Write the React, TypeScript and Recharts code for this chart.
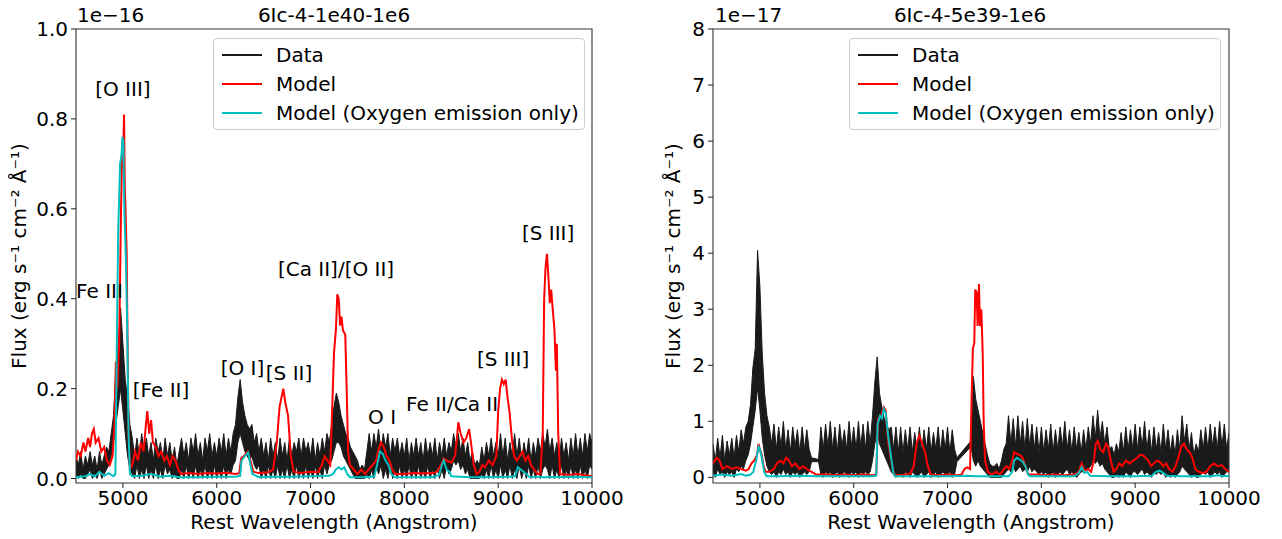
import React from 'react';
import { ComposedChart, Area, Line, XAxis, YAxis, ReferenceDot, ReferenceArea, Legend } from 'recharts';

const FONT = '"DejaVu Sans", sans-serif';

// observed spectra: lower and upper envelope of the noisy data in 25 A bins from 4500 A (null = no data)
const GRID_START = 4500;
const GRID_STEP = 25;

// left panel, units of 1e-16
const DATA_LEFT_HI = [
  0.05, 0.03, 0.06, 0.02, 0.05, 0.03, 0.06, 0.03, 0.05, 0.02, 0.06, 0.03, 0.05, 0.07, 0.06, 0.1, 0.14, 0.24, 0.3, 0.38,
  0.3, 0.22, 0.18, 0.12, 0.09, 0.05, 0.09, 0.05, 0.1, 0.06, 0.09, 0.05, 0.08, 0.04, 0.09, 0.06, 0.08, 0.04, 0.09, 0.05,
  0.08, 0.04, 0.07, 0.03, 0.06, 0.09, 0.05, 0.08, 0.04, 0.09, 0.06, 0.1, 0.05, 0.08, 0.04, 0.09, 0.06, 0.1, 0.05, 0.08,
  0.05, 0.09, 0.06, 0.1, 0.05, 0.09, 0.06, 0.1, 0.12, 0.18, 0.22, 0.17, 0.14, 0.12, 0.11, 0.12, 0.08, 0.1, 0.06, 0.09,
  0.05, 0.08, 0.04, 0.09, 0.05, 0.08, 0.04, 0.09, 0.05, 0.08, 0.04, 0.09, 0.05, 0.08, 0.06, 0.09, 0.05, 0.09, 0.06, 0.08,
  0.05, 0.09, 0.04, 0.08, 0.05, 0.09, 0.06, 0.1, 0.08, 0.12, 0.16, 0.19, 0.17, 0.14, 0.12, 0.1, 0.09, 0.07, 0.06, 0.05,
  0.04, 0.02, 0.03, 0.02, 0.06, 0.1, 0.06, 0.1, 0.07, 0.11, 0.06, 0.1, 0.07, 0.1, 0.05, 0.09, 0.06, 0.09, 0.05, 0.08,
  0.05, 0.09, 0.04, 0.08, 0.05, 0.09, 0.05, 0.08, 0.04, 0.09, 0.05, 0.08, 0.05, 0.09, 0.04, 0.08, 0.05, 0.09, 0.05, 0.08,
  0.06, 0.1, 0.07, 0.1, 0.06, 0.09, 0.05, 0.08, 0.04, 0.06, 0.03, 0.04, 0.03, 0.07, 0.04, 0.08, 0.05, 0.09, 0.05, 0.08,
  0.05, 0.1, 0.05, 0.09, 0.04, 0.08, 0.05, 0.1, 0.05, 0.09, 0.04, 0.08, 0.05, 0.09, 0.04, 0.08, 0.05, 0.09, 0.06, 0.1,
  0.07, 0.11, 0.06, 0.09, 0.05, 0.08, 0.04, 0.09, 0.05, 0.08, 0.04, 0.09, 0.05, 0.1, 0.05, 0.09, 0.05, 0.1, 0.06, 0.1,
  0.08,
];
const DATA_LEFT_LO = [
  0.01, 0.0, 0.01, 0.0, 0.0, 0.01, 0.02, 0.0, 0.01, 0.0, 0.02, 0.0, 0.01, 0.02, 0.03, 0.05, 0.08, 0.12, 0.16, 0.2,
  0.15, 0.1, 0.05, 0.02, 0.01, 0.0, 0.03, 0.0, 0.02, 0.0, 0.03, 0.0, 0.02, 0.0, 0.03, 0.0, 0.02, 0.0, 0.03, 0.01,
  0.02, 0.0, 0.01, 0.0, 0.0, 0.02, 0.0, 0.03, 0.0, 0.02, 0.0, 0.03, 0.0, 0.02, 0.0, 0.03, 0.0, 0.02, 0.0, 0.03,
  0.0, 0.02, 0.0, 0.03, 0.0, 0.02, 0.01, 0.03, 0.04, 0.08, 0.1, 0.08, 0.06, 0.05, 0.04, 0.05, 0.03, 0.02, 0.03, 0.0,
  0.02, 0.0, 0.03, 0.0, 0.02, 0.0, 0.03, 0.0, 0.02, 0.0, 0.03, 0.0, 0.02, 0.0, 0.03, 0.0, 0.02, 0.0, 0.03, 0.0,
  0.02, 0.0, 0.03, 0.0, 0.02, 0.0, 0.03, 0.01, 0.03, 0.04, 0.06, 0.08, 0.08, 0.07, 0.05, 0.04, 0.03, 0.02, 0.01, 0.0,
  0.0, 0.0, 0.0, 0.0, 0.01, 0.0, 0.02, 0.0, 0.03, 0.01, 0.03, 0.0, 0.02, 0.0, 0.03, 0.0, 0.02, 0.0, 0.03, 0.0,
  0.02, 0.0, 0.03, 0.0, 0.02, 0.0, 0.03, 0.0, 0.02, 0.0, 0.03, 0.0, 0.02, 0.0, 0.03, 0.0, 0.02, 0.0, 0.03, 0.01,
  0.02, 0.04, 0.03, 0.04, 0.02, 0.03, 0.01, 0.02, 0.0, 0.0, 0.0, 0.0, 0.0, 0.01, 0.0, 0.02, 0.0, 0.03, 0.0, 0.02,
  0.0, 0.03, 0.0, 0.02, 0.0, 0.03, 0.0, 0.02, 0.0, 0.03, 0.0, 0.02, 0.0, 0.03, 0.0, 0.02, 0.0, 0.03, 0.0, 0.02,
  0.03, 0.02, 0.0, 0.03, 0.0, 0.02, 0.0, 0.03, 0.0, 0.02, 0.0, 0.03, 0.0, 0.02, 0.0, 0.03, 0.0, 0.02, 0.0, 0.03,
  0.02,
];

// right panel, units of 1e-17
const DATA_RIGHT_HI = [
  0.6, 0.3, 0.7, 0.35, 0.75, 0.3, 0.65, 0.4, 0.7, 0.35, 0.75, 0.45, 0.85, 0.6, 0.9, 1.0, 1.3, 1.95, 2.3, 4.05,
  3.4, 2.2, 1.5, 1.1, 0.9, 0.6, 0.95, 0.5, 0.9, 0.55, 1.0, 0.5, 0.85, 0.45, 0.9, 0.55, 0.85, 0.45, 0.9, 0.5,
  0.85, 0.5, 0.35, null, null, 0.32, 0.9, 0.5, 0.95, 0.55, 1.0, 0.5, 0.9, 0.45, 0.95, 0.55, 0.85, 0.5, 1.0, 0.55,
  0.9, 0.5, 1.0, 0.55, 0.95, 0.5, 1.0, 0.6, 1.1, 1.7, 2.15, 1.5, 1.25, 1.05, 0.95, 0.85, 0.9, 0.5, 0.9, 0.45,
  0.9, 0.45, 0.85, 0.5, 0.9, 0.45, 0.8, 0.5, 0.9, 0.45, 0.85, 0.5, 0.9, 0.45, 0.8, 0.5, 0.9, 0.45, 0.85, 0.5,
  0.9, 0.45, 0.85, 0.5, 0.35, null, null, null, null, null, 0.65, 1.8, 1.4, 1.2, 1.0, 0.8, 0.6, 0.4, 0.25, 0.2,
  0.2, 0.25, 0.15, 0.3, 0.5, 0.6, 1.1, 0.6, 1.05, 0.55, 1.1, 0.6, 1.0, 0.5, 1.05, 0.55, 0.95, 0.5, 0.9, 0.45,
  0.9, 0.45, 0.85, 0.5, 0.95, 0.45, 0.85, 0.5, 0.9, 0.55, 1.0, 0.5, 0.85, 0.45, 0.9, 0.5, 0.8, 0.45, 0.85, 0.5,
  0.9, 0.6, 1.1, 0.7, 1.2, 0.7, 1.0, 0.6, 0.9, 0.5, 0.55, 0.4, 0.6, 0.45, 0.8, 0.45, 0.9, 0.5, 0.85, 0.5,
  0.95, 0.5, 0.9, 0.55, 1.0, 0.5, 0.85, 0.45, 0.9, 0.5, 0.8, 0.45, 0.95, 0.5, 0.85, 0.45, 0.75, 0.4, 0.85, 0.5,
  1.1, 0.65, 0.95, 0.5, 0.8, 0.4, 0.6, 0.45, 0.85, 0.5, 0.9, 0.5, 0.95, 0.55, 0.9, 0.5, 1.0, 0.55, 0.95, 0.5,
  0.8,
];
const DATA_RIGHT_LO = [
  0.1, 0.0, 0.15, 0.05, 0.1, 0.0, 0.1, 0.05, 0.1, 0.0, 0.15, 0.1, 0.2, 0.15, 0.3, 0.4, 0.6, 0.9, 1.2, 1.6,
  1.2, 0.7, 0.4, 0.2, 0.1, 0.05, 0.1, 0.0, 0.1, 0.05, 0.15, 0.05, 0.1, 0.0, 0.1, 0.05, 0.1, 0.0, 0.05, 0.1,
  0.05, 0.1, 0.28, null, null, 0.28, 0.05, 0.0, 0.1, 0.05, 0.1, 0.0, 0.05, 0.1, 0.0, 0.05, 0.1, 0.05, 0.0, 0.1,
  0.05, 0.1, 0.0, 0.1, 0.05, 0.1, 0.05, 0.1, 0.3, 0.6, 0.8, 0.6, 0.5, 0.4, 0.3, 0.2, 0.1, 0.05, 0.0, 0.05,
  0.05, 0.0, 0.1, 0.05, 0.0, 0.1, 0.05, 0.0, 0.05, 0.1, 0.0, 0.05, 0.1, 0.0, 0.05, 0.1, 0.0, 0.05, 0.1, 0.05,
  0.05, 0.1, 0.0, 0.05, 0.28, null, null, null, null, null, 0.55, 0.3, 0.2, 0.3, 0.2, 0.15, 0.1, 0.05, 0.0, 0.0,
  0.0, 0.0, 0.0, 0.0, 0.05, 0.1, 0.15, 0.1, 0.2, 0.1, 0.15, 0.2, 0.1, 0.15, 0.1, 0.2, 0.1, 0.15, 0.1, 0.05,
  0.1, 0.05, 0.1, 0.0, 0.05, 0.1, 0.0, 0.05, 0.1, 0.05, 0.1, 0.15, 0.05, 0.1, 0.05, 0.0, 0.05, 0.1, 0.1, 0.15,
  0.15, 0.2, 0.3, 0.25, 0.3, 0.2, 0.25, 0.15, 0.1, 0.05, 0.0, 0.0, 0.05, 0.0, 0.05, 0.0, 0.1, 0.05, 0.0, 0.1,
  0.1, 0.05, 0.1, 0.15, 0.05, 0.1, 0.05, 0.0, 0.1, 0.05, 0.1, 0.05, 0.1, 0.0, 0.05, 0.0, 0.05, 0.0, 0.05, 0.1,
  0.2, 0.15, 0.1, 0.05, 0.0, 0.05, 0.0, 0.0, 0.05, 0.1, 0.05, 0.1, 0.0, 0.05, 0.1, 0.05, 0.1, 0.0, 0.05, 0.1,
  0.1,
];

// models, sampled at their own wavelengths
const MODEL_LEFT_WAVE = [
  4500, 4520, 4550, 4580, 4600, 4630, 4650, 4670, 4690, 4710, 4740, 4770, 4800, 4830, 4860, 4890, 4910, 4925, 4940, 4960,
  4980, 4995, 5005, 5012, 5020, 5030, 5040, 5050, 5060, 5075, 5100, 5130, 5160, 5190, 5220, 5245, 5260, 5280, 5300, 5320,
  5350, 5380, 5410, 5440, 5470, 5500, 5530, 5560, 5590, 5620, 5700, 5800, 5900, 6000, 6100, 6200, 6240, 6260, 6290, 6330,
  6360, 6390, 6450, 6550, 6600, 6640, 6670, 6690, 6710, 6730, 6760, 6790, 6820, 6900, 7000, 7080, 7120, 7150, 7180, 7210,
  7230, 7250, 7270, 7285, 7300, 7315, 7330, 7345, 7370, 7385, 7400, 7420, 7460, 7500, 7540, 7580, 7620, 7660, 7700, 7720,
  7750, 7780, 7810, 7840, 7870, 7900, 8000, 8100, 8200, 8300, 8350, 8390, 8420, 8450, 8500, 8540, 8560, 8575, 8600, 8630,
  8660, 8690, 8710, 8740, 8770, 8800, 8830, 8860, 8900, 8940, 8980, 9000, 9020, 9040, 9060, 9080, 9100, 9120, 9150, 9170,
  9200, 9230, 9260, 9290, 9320, 9350, 9380, 9420, 9450, 9475, 9490, 9505, 9520, 9535, 9550, 9565, 9580, 9600, 9615, 9625,
  9640, 9660, 9750, 9850, 10000,
];
const MODEL_LEFT = [
  0.04, 0.06, 0.05, 0.08, 0.06, 0.09, 0.07, 0.1, 0.11, 0.08, 0.09, 0.06, 0.07, 0.04, 0.03, 0.05, 0.12, 0.26, 0.2, 0.3,
  0.6, 0.75, 0.74, 0.81, 0.65, 0.58, 0.5, 0.3, 0.1, 0.02, 0.03, 0.06, 0.04, 0.08, 0.06, 0.12, 0.15, 0.1, 0.13, 0.08,
  0.07, 0.05, 0.06, 0.04, 0.05, 0.03, 0.05, 0.04, 0.02, 0.01, 0.012, 0.01, 0.012, 0.011, 0.013, 0.01, 0.012, 0.045, 0.05, 0.06,
  0.04, 0.015, 0.012, 0.014, 0.02, 0.08, 0.16, 0.18, 0.2, 0.17, 0.14, 0.05, 0.015, 0.012, 0.015, 0.014, 0.03, 0.05, 0.04, 0.03,
  0.15, 0.28, 0.33, 0.41, 0.4, 0.34, 0.36, 0.33, 0.32, 0.2, 0.06, 0.03, 0.02, 0.01, 0.02, 0.01, 0.02, 0.03, 0.04, 0.06,
  0.08, 0.07, 0.05, 0.04, 0.02, 0.01, 0.01, 0.012, 0.011, 0.012, 0.015, 0.03, 0.045, 0.04, 0.035, 0.05, 0.09, 0.125, 0.1, 0.08,
  0.09, 0.11, 0.08, 0.03, 0.01, 0.015, 0.03, 0.025, 0.04, 0.03, 0.05, 0.15, 0.2, 0.22, 0.21, 0.22, 0.18, 0.15, 0.08, 0.05,
  0.04, 0.05, 0.06, 0.04, 0.05, 0.03, 0.02, 0.01, 0.01, 0.1, 0.4, 0.47, 0.5, 0.45, 0.39, 0.42, 0.38, 0.33, 0.24, 0.3,
  0.1, 0.01, 0.008, 0.01, 0.005,
];

const OXY_LEFT_WAVE = [
  4500, 4600, 4650, 4700, 4750, 4800, 4850, 4900, 4920, 4935, 4950, 4970, 4985, 4995, 5005, 5015, 5030, 5045, 5060, 5075,
  5100, 5200, 5300, 5400, 5500, 5600, 5800, 6000, 6200, 6250, 6265, 6300, 6335, 6360, 6380, 6450, 6600, 6800, 7000, 7200,
  7240, 7270, 7300, 7330, 7360, 7390, 7420, 7600, 7680, 7710, 7740, 7770, 7800, 7830, 7860, 7900, 8100, 8300, 8370, 8400,
  8420, 8450, 8480, 8500, 8700, 8900, 9100, 9180, 9210, 9240, 9270, 9300, 9330, 9500, 9800, 10000,
];
const OXY_LEFT = [
  0.003, 0.005, 0.01, 0.005, 0.015, 0.006, 0.012, 0.005, 0.01, 0.3, 0.55, 0.7, 0.72, 0.76, 0.75, 0.6, 0.5, 0.35, 0.1, 0.01,
  0.005, 0.006, 0.01, 0.004, 0.006, 0.003, 0.003, 0.004, 0.004, 0.006, 0.04, 0.05, 0.058, 0.03, 0.01, 0.003, 0.004, 0.004, 0.005, 0.006,
  0.01, 0.02, 0.025, 0.02, 0.025, 0.01, 0.003, 0.003, 0.005, 0.03, 0.06, 0.055, 0.04, 0.03, 0.01, 0.003, 0.003, 0.003, 0.008, 0.03,
  0.04, 0.02, 0.015, 0.005, 0.003, 0.003, 0.004, 0.005, 0.025, 0.02, 0.015, 0.01, 0.004, 0.003, 0.004, 0.003,
];

const MODEL_RIGHT_WAVE = [
  4500, 4520, 4540, 4570, 4600, 4650, 4700, 4750, 4800, 4850, 4880, 4910, 4940, 4970, 4985, 5000, 5020, 5040, 5060, 5100,
  5150, 5180, 5220, 5250, 5280, 5310, 5340, 5380, 5420, 5460, 5500, 5550, 5600, 5700, 5800, 5900, 6000, 6100, 6200, 6240,
  6260, 6290, 6320, 6340, 6370, 6400, 6430, 6500, 6550, 6600, 6640, 6670, 6700, 6730, 6760, 6790, 6820, 6900, 7000, 7100,
  7150, 7180, 7210, 7240, 7255, 7270, 7285, 7295, 7310, 7320, 7335, 7345, 7360, 7375, 7385, 7400, 7430, 7470, 7520, 7560,
  7600, 7630, 7660, 7690, 7710, 7740, 7770, 7800, 7830, 7860, 7950, 8050, 8150, 8250, 8350, 8400, 8430, 8460, 8500, 8530,
  8560, 8580, 8600, 8630, 8660, 8690, 8710, 8740, 8770, 8800, 8830, 8860, 8900, 8940, 8980, 9020, 9050, 9080, 9110, 9140,
  9170, 9200, 9230, 9260, 9300, 9330, 9360, 9400, 9430, 9460, 9490, 9520, 9550, 9580, 9610, 9640, 9680, 9720, 9760, 9800,
  9840, 9880, 9920, 9960, 10000,
];
const MODEL_RIGHT = [
  0.25, 0.3, 0.35, 0.3, 0.15, 0.2, 0.15, 0.18, 0.15, 0.12, 0.15, 0.25, 0.3, 0.4, 0.6, 0.5, 0.4, 0.2, 0.1, 0.1,
  0.15, 0.25, 0.3, 0.25, 0.35, 0.3, 0.2, 0.25, 0.15, 0.2, 0.15, 0.1, 0.05, 0.05, 0.04, 0.05, 0.04, 0.05, 0.04, 0.05,
  1.05, 1.1, 1.25, 1.2, 0.6, 0.3, 0.05, 0.04, 0.05, 0.06, 0.2, 0.6, 0.75, 0.6, 0.45, 0.2, 0.05, 0.04, 0.05, 0.04,
  0.05, 0.15, 0.18, 0.15, 1.3, 2.3, 2.4, 3.35, 3.3, 2.7, 3.45, 2.7, 3.0, 2.2, 1.0, 0.3, 0.1, 0.05, 0.1, 0.05,
  0.15, 0.2, 0.15, 0.3, 0.45, 0.42, 0.4, 0.35, 0.2, 0.05, 0.05, 0.04, 0.05, 0.04, 0.05, 0.1, 0.25, 0.12, 0.15, 0.1,
  0.3, 0.6, 0.65, 0.5, 0.45, 0.6, 0.55, 0.3, 0.1, 0.15, 0.25, 0.2, 0.3, 0.25, 0.3, 0.35, 0.4, 0.4, 0.35, 0.3,
  0.2, 0.25, 0.3, 0.28, 0.2, 0.25, 0.15, 0.1, 0.2, 0.35, 0.55, 0.6, 0.5, 0.45, 0.35, 0.15, 0.1, 0.08, 0.1, 0.2,
  0.25, 0.2, 0.22, 0.15, 0.1,
];

const OXY_RIGHT_WAVE = [
  4500, 4600, 4700, 4800, 4850, 4900, 4930, 4960, 4985, 5000, 5020, 5045, 5070, 5200, 5400, 5600, 5800, 6000, 6200, 6240,
  6255, 6280, 6300, 6320, 6340, 6370, 6400, 6420, 6440, 6600, 6800, 7000, 7200, 7300, 7500, 7650, 7690, 7710, 7740, 7770,
  7800, 7830, 7860, 7880, 8100, 8350, 8400, 8430, 8460, 8490, 8520, 8700, 9000, 9180, 9220, 9260, 9300, 9340, 9500, 9800,
  9880, 9920, 10000,
];
const OXY_RIGHT = [
  0.03, 0.05, 0.03, 0.06, 0.03, 0.05, 0.1, 0.3, 0.55, 0.5, 0.35, 0.1, 0.02, 0.02, 0.03, 0.02, 0.02, 0.02, 0.02, 0.03,
  0.95, 1.1, 1.05, 1.22, 1.15, 0.7, 0.35, 0.1, 0.02, 0.02, 0.02, 0.02, 0.03, 0.02, 0.02, 0.02, 0.1, 0.3, 0.35, 0.32,
  0.28, 0.2, 0.05, 0.02, 0.02, 0.02, 0.08, 0.18, 0.08, 0.1, 0.03, 0.02, 0.02, 0.03, 0.1, 0.12, 0.08, 0.03, 0.02, 0.02,
  0.04, 0.03, 0.02,
];

const X_TICKS = [5000, 6000, 7000, 8000, 9000, 10000];
const Y_TICKS_LEFT = [0, 0.2, 0.4, 0.6, 0.8, 1.0];
const Y_TICKS_RIGHT = [0, 1, 2, 3, 4, 5, 6, 7, 8];

const LEGEND_ITEMS = [
  { label: 'Data', color: '#1a1a1a' },
  { label: 'Model', color: '#ff0000' },
  { label: 'Model (Oxygen emission only)', color: '#00bfbf' },
];

// line identifications on the left panel: [label, wavelength, flux]
const LINE_LABELS: [string, number, number][] = [
  ['[O III]', 5000, 0.867],
  ['Fe III', 4750, 0.418],
  ['[Fe II]', 5406, 0.198],
  ['[O I]', 6275, 0.247],
  ['[S II]', 6771, 0.236],
  ['[Ca II]/[O II]', 7272, 0.467],
  ['O I', 7762, 0.136],
  ['Fe II/Ca II', 8509, 0.167],
  ['[S III]', 9052, 0.267],
  ['[S III]', 9532, 0.547],
];

const band = (lo: (number | null)[], hi: (number | null)[]) =>
  lo.map((l, i) => ({ w: GRID_START + GRID_STEP * i, r: l === null || hi[i] === null ? null : [l, hi[i]] }));
const pairs = (waves: number[], vals: number[]) => waves.map((w, i) => ({ w, v: vals[i] }));

const LegendBox = () => (
  <div
    style={{
      width: 372,
      height: 92,
      boxSizing: 'border-box',
      border: '1px solid #cccccc',
      borderRadius: 4,
      background: 'rgba(255,255,255,0.8)',
      position: 'relative',
      fontFamily: FONT,
      fontSize: 20,
      color: '#000',
    }}
  >
    {LEGEND_ITEMS.map((it, i) => (
      <div key={it.label} style={{ position: 'absolute', left: 0, top: 4 + 29 * i, height: 24, display: 'flex', alignItems: 'center' }}>
        <div style={{ marginLeft: 8, width: 40, height: 2, background: it.color }} />
        <span style={{ marginLeft: 14, lineHeight: '24px', whiteSpace: 'nowrap' }}>{it.label}</span>
      </div>
    ))}
  </div>
);

interface PanelProps {
  left: number;
  width: number;
  axisWidth: number;
  data: { w: number; r: number[] | null }[];
  model: { w: number; v: number }[];
  oxygen: { w: number; v: number }[];
  yDomain: [number, number];
  yTicks: number[];
  yFormat: (v: number) => string;
  legendLeft: number;
  labels?: [string, number, number][];
}

const Panel: React.FC<PanelProps> = (p) => (
  <div style={{ position: 'absolute', left: p.left, top: 0 }}>
    <ComposedChart data={p.data} width={p.width} height={539} margin={{ top: 29, right: p.width - p.axisWidth - 516, bottom: 0, left: 0 }}>
      <XAxis
        dataKey="w"
        type="number"
        domain={[4500, 10000]}
        ticks={X_TICKS}
        allowDataOverflow
        axisLine={false}
        tickSize={5}
        tickMargin={3}
        tickLine={{ stroke: '#222' }}
        tick={{ fill: '#000', fontSize: 20, fontFamily: FONT }}
        height={56}
        label={{ value: 'Rest Wavelength (Angstrom)', position: 'insideBottom', offset: 10, fill: '#000', fontSize: 20, fontFamily: FONT }}
      />
      <YAxis
        type="number"
        domain={p.yDomain}
        ticks={p.yTicks}
        allowDataOverflow
        axisLine={false}
        tickSize={5}
        tickMargin={3}
        tickLine={{ stroke: '#222' }}
        tick={{ fill: '#000', fontSize: 20, fontFamily: FONT }}
        tickFormatter={p.yFormat}
        width={p.axisWidth}
      />
      <Area
        dataKey="r"
        type="linear"
        stroke="#1a1a1a"
        strokeWidth={1}
        fill="#1a1a1a"
        fillOpacity={1}
        connectNulls
        dot={false}
        activeDot={false}
        isAnimationActive={false}
      />
      <Line data={p.model} dataKey="v" stroke="#ff0000" strokeWidth={2} dot={false} isAnimationActive={false} />
      <Line data={p.oxygen} dataKey="v" stroke="#00bfbf" strokeWidth={2} dot={false} isAnimationActive={false} />
      <ReferenceArea x1={4500} x2={10000} y1={p.yDomain[0]} y2={p.yDomain[1]} fill="none" stroke="#333" strokeWidth={1.1} fillOpacity={0} />
      {(p.labels || []).map(([text, w, f], i) => (
        <ReferenceDot
          key={i}
          x={w}
          y={f}
          r={0}
          fill="none"
          stroke="none"
          label={{ value: text, position: 'center', fill: '#000', fontSize: 20, fontFamily: FONT }}
        />
      ))}
      <Legend verticalAlign="middle" layout="horizontal" content={<LegendBox />} wrapperStyle={{ left: p.legendLeft, top: 38, width: 372, height: 92 }} />
    </ComposedChart>
  </div>
);

const Txt: React.FC<{ x: number; y: number; anchor?: 'start' | 'middle'; rotate?: boolean; children: React.ReactNode }> = ({ x, y, anchor = 'middle', rotate, children }) => (
  <div
    style={{
      position: 'absolute',
      left: x,
      top: y,
      transform: `translate(${anchor === 'middle' ? '-50%' : '0'}, -50%)${rotate ? ' rotate(-90deg)' : ''}`,
      fontFamily: FONT,
      fontSize: 20,
      lineHeight: '24px',
      whiteSpace: 'nowrap',
      color: '#000',
    }}
  >
    {children}
  </div>
);

const FLUX_LABEL = 'Flux (erg s\u207B\u00B9 cm\u207B\u00B2 \u00C5\u207B\u00B9)';

export default function App() {
  return (
    <div style={{ position: 'absolute', left: 0, top: 0, width: 1282, height: 539, background: '#fff', overflow: 'hidden' }}>
      <Panel
        left={0}
        width={640}
        axisWidth={76}
        data={band(DATA_LEFT_LO, DATA_LEFT_HI)}
        model={pairs(MODEL_LEFT_WAVE, MODEL_LEFT)}
        oxygen={pairs(OXY_LEFT_WAVE, OXY_LEFT)}
        yDomain={[-0.01, 1.0]}
        yTicks={Y_TICKS_LEFT}
        yFormat={(v) => v.toFixed(1)}
        legendLeft={213}
        labels={LINE_LABELS}
      />
      <Panel
        left={640}
        width={642}
        axisWidth={73}
        data={band(DATA_RIGHT_LO, DATA_RIGHT_HI)}
        model={pairs(MODEL_RIGHT_WAVE, MODEL_RIGHT)}
        oxygen={pairs(OXY_RIGHT_WAVE, OXY_RIGHT)}
        yDomain={[-0.1, 8]}
        yTicks={Y_TICKS_RIGHT}
        yFormat={(v) => String(v)}
        legendLeft={209}
      />
      <Txt x={77} y={15} anchor="start">1e{'\u2212'}16</Txt>
      <Txt x={334} y={15}>6Ic-4-1e40-1e6</Txt>
      <Txt x={19} y={256} rotate>{FLUX_LABEL}</Txt>
      <Txt x={715} y={15} anchor="start">1e{'\u2212'}17</Txt>
      <Txt x={970} y={15}>6Ic-4-5e39-1e6</Txt>
      <Txt x={673} y={256} rotate>{FLUX_LABEL}</Txt>
    </div>
  );
}
